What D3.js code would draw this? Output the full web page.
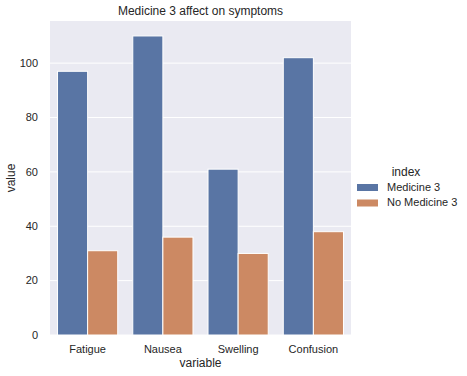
<!DOCTYPE html>
<html>
<head>
<meta charset="utf-8">
<script src="https://cdn.jsdelivr.net/npm/d3@7"></script>
<style>
  body { margin: 0; background: #fff; }
  svg { font-family: "Liberation Sans", Arial, sans-serif; }
</style>
</head>
<body>
<div id="chart"></div>
<script>
// data
const categories = ["Fatigue", "Nausea", "Swelling", "Confusion"];
const groups = ["Medicine 3", "No Medicine 3"];
const medicineValues = [97, 110, 61, 102];
const noMedicineValues = [31, 36, 30, 38];
const yTicks = [0, 20, 40, 60, 80, 100];
const groupColors = ["#5975a4", "#cc8963"];

const width = 467, height = 376;
const margin = { left: 50, right: 116, top: 21, bottom: 41 };

const svg = d3.select("#chart").append("svg")
  .attr("width", width)
  .attr("height", height);

const rows = categories.map((c, i) => ({
  cat: c,
  vals: [medicineValues[i], noMedicineValues[i]]
}));

const x = d3.scaleBand()
  .domain(categories)
  .range([margin.left, width - margin.right]);

const xInner = d3.scaleBand()
  .domain(groups)
  .range([0, x.bandwidth() * 0.8]);

const y = d3.scaleLinear()
  .domain([0, 115.5])
  .range([height - margin.bottom, margin.top]);

// plot background
svg.append("rect")
  .attr("x", margin.left)
  .attr("y", margin.top)
  .attr("width", width - margin.left - margin.right)
  .attr("height", height - margin.top - margin.bottom)
  .attr("fill", "#eaeaf2");

// horizontal gridlines only (categorical axis has no grid)
svg.append("g").selectAll("line")
  .data(yTicks)
  .join("line")
    .attr("x1", margin.left)
    .attr("x2", width - margin.right)
    .attr("y1", d => y(d))
    .attr("y2", d => y(d))
    .attr("stroke", "#fff")
    .attr("stroke-width", 1);

// bars
svg.append("g").selectAll("g")
  .data(rows)
  .join("g")
    .attr("transform", d => `translate(${x(d.cat) + x.bandwidth() * 0.1},0)`)
  .selectAll("rect")
  .data(d => d.vals.map((v, i) => ({ key: groups[i], v: v, i: i })))
  .join("rect")
    .attr("x", d => xInner(d.key))
    .attr("width", xInner.bandwidth())
    .attr("y", d => y(d.v))
    .attr("height", d => y(0) - y(d.v))
    .attr("fill", d => groupColors[d.i])
    .attr("stroke", "#fff")
    .attr("stroke-width", 1);

// y axis labels
svg.append("g").selectAll("text")
  .data(yTicks)
  .join("text")
    .attr("x", 38)
    .attr("y", d => y(d))
    .attr("dy", "0.35em")
    .attr("text-anchor", "end")
    .attr("font-size", 11)
    .attr("fill", "#262626")
    .text(d => d);

// x axis labels
svg.append("g").selectAll("text")
  .data(categories)
  .join("text")
    .attr("x", d => x(d) + x.bandwidth() / 2)
    .attr("y", y(0) + 18)
    .attr("text-anchor", "middle")
    .attr("font-size", 11)
    .attr("fill", "#262626")
    .text(d => d);

// axis titles
svg.append("text")
  .attr("x", (margin.left + width - margin.right) / 2)
  .attr("y", height - 9)
  .attr("text-anchor", "middle")
  .attr("font-size", 12)
  .attr("fill", "#262626")
  .text("variable");

svg.append("text")
  .attr("transform", `translate(15,${(margin.top + height - margin.bottom) / 2}) rotate(-90)`)
  .attr("text-anchor", "middle")
  .attr("font-size", 12)
  .attr("fill", "#262626")
  .text("value");

svg.append("text")
  .attr("x", (margin.left + width - margin.right) / 2)
  .attr("y", 15)
  .attr("text-anchor", "middle")
  .attr("font-size", 12)
  .attr("fill", "#262626")
  .text("Medicine 3 affect on symptoms");

// legend
const legend = svg.append("g").attr("transform", "translate(357,0)");
legend.append("text")
  .attr("x", 49)
  .attr("y", 176)
  .attr("text-anchor", "middle")
  .attr("font-size", 12)
  .attr("fill", "#262626")
  .text("index");

const items = legend.selectAll("g.item")
  .data(groups)
  .join("g")
    .attr("class", "item")
    .attr("transform", (d, i) => `translate(0,${187 + i * 15.5})`);

items.append("rect")
  .attr("x", 0)
  .attr("y", -3)
  .attr("width", 21)
  .attr("height", 7)
  .attr("fill", (d, i) => groupColors[i]);

items.append("text")
  .attr("x", 30)
  .attr("y", 0)
  .attr("dy", "0.35em")
  .attr("font-size", 11)
  .attr("fill", "#262626")
  .text(d => d);
</script>
</body>
</html>
